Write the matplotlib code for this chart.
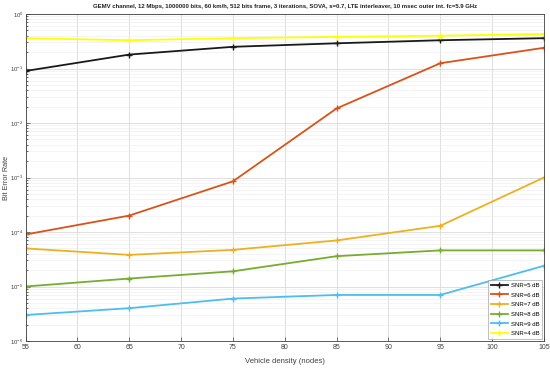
import matplotlib
matplotlib.use("Agg")
import matplotlib.pyplot as plt
from matplotlib.ticker import LogLocator, NullFormatter

plt.rcParams['font.family'] = ['Liberation Sans', 'DejaVu Sans']

x = [55, 65, 75, 85, 95, 105]
snr5 = [0.09, 0.18, 0.25, 0.29, 0.33, 0.36]
snr6 = [9e-5, 2e-4, 8.5e-4, 0.0185, 0.125, 0.24]
snr7 = [5e-5, 3.8e-5, 4.7e-5, 7e-5, 1.3e-4, 1e-3]
snr8 = [1e-5, 1.4e-5, 1.9e-5, 3.6e-5, 4.6e-5, 4.6e-5]
snr9 = [3e-6, 4e-6, 6e-6, 7e-6, 7e-6, 2.4e-5]
snr4 = [0.36, 0.33, 0.36, 0.38, 0.40, 0.43]

series = [
    ("SNR=5 dB", snr5, (0.1, 0.1, 0.1)),
    ("SNR=6 dB", snr6, (0.85, 0.325, 0.098)),
    ("SNR=7 dB", snr7, (0.929, 0.694, 0.125)),
    ("SNR=8 dB", snr8, (0.466, 0.674, 0.188)),
    ("SNR=9 dB", snr9, (0.301, 0.745, 0.933)),
    ("SNR=4 dB", snr4, (1.0, 1.0, 0.0)),
]

fig = plt.figure(figsize=(5.5, 3.68), dpi=100)
ax = fig.add_axes([25.5/550, 27/368, 518.5/550, 327/368])
for lab, ys, c in series:
    ax.semilogy(x, ys, color=c, marker="+", markersize=5, linewidth=1.3, label=lab)

ax.set_xlim(55, 105)
ax.set_ylim(1e-6, 1)
ax.set_xticks(range(55, 106, 5))
ax.yaxis.set_major_locator(LogLocator(base=10, numticks=10))
ax.yaxis.set_minor_locator(LogLocator(base=10, subs=range(2, 10), numticks=10))
ax.yaxis.set_minor_formatter(NullFormatter())
ax.grid(True, which="major", color="#d9d9d9", linewidth=0.6)
ax.grid(True, which="minor", color="#ececec", linewidth=0.4)
ax.tick_params(labelsize=5, colors="#404040", length=3, width=0.5, direction="in", pad=2)
ax.tick_params(axis="y", labelsize=4.3, pad=1.5)
ax.tick_params(which="minor", length=1.5, width=0.4, direction="in")
for s in ax.spines.values():
    s.set_color("#404040")
    s.set_linewidth(0.6)
ax.set_xlabel("Vehicle density (nodes)", fontsize=5.5, color="#404040")
ax.xaxis.set_label_coords(0.5, -0.052)
ax.set_ylabel("Bit Error Rate", fontsize=5.2, color="#404040")
ax.yaxis.set_label_coords(-0.03, 0.5)
ax.set_title("GEMV channel, 12 Mbps, 1000000 bits, 60 km/h, 512 bits frame, 3 iterations, SOVA, s=0.7, LTE interleaver, 10 msec outer int. fc=5.9 GHz",
             fontsize=4.3, fontweight="bold", color="#222222", pad=4)
leg = ax.legend(loc="lower right", fontsize=4.3, frameon=True, fancybox=False,
                edgecolor="#909090", handlelength=2.8, borderpad=0.5, labelspacing=0.75,
                handletextpad=0.5, borderaxespad=0.3)
leg.get_frame().set_linewidth(0.5)
fig.savefig("out.png", dpi=100)
